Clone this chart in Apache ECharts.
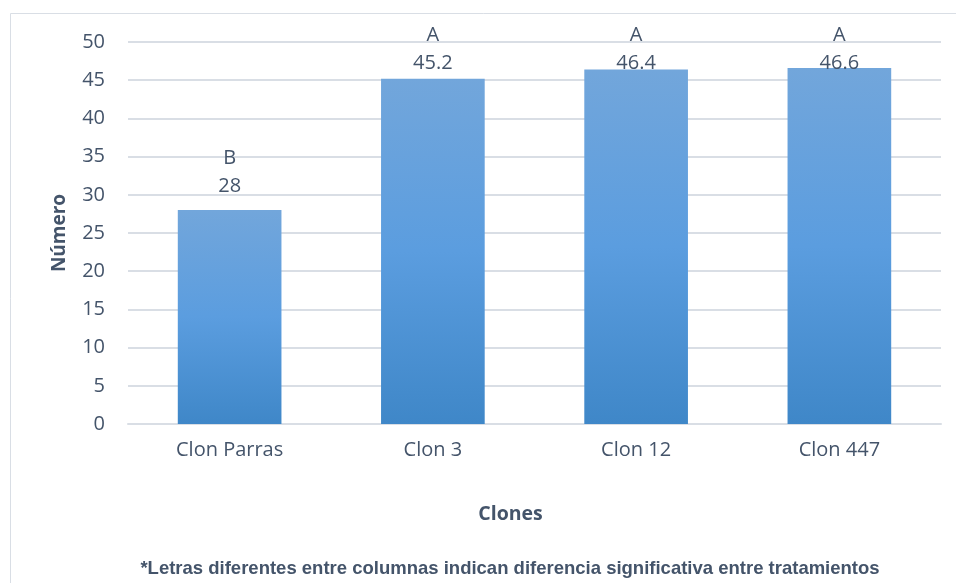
<!DOCTYPE html>
<html>
<head>
<meta charset="utf-8">
<script src="https://cdn.jsdelivr.net/npm/echarts@6/dist/echarts.min.js"></script>
<style>
  html, body { margin: 0; padding: 0; background: #ffffff; }
  #chart { width: 956px; height: 583px; }
</style>
</head>
<body>
<div id="chart"></div>
<script>
// Clones and their mean counts, with significance groups
const categories = ['Clon Parras', 'Clon 3', 'Clon 12', 'Clon 447'];
const values = [28, 45.2, 46.4, 46.6];
const groups = ['B', 'A', 'A', 'A'];
const yMin = 0;
const yMax = 50;
const yStep = 5;

const textColor = '#44546A';
const gridColor = '#D9DEE5';
const fontFamily = '"Open Sans", "Noto Sans", sans-serif';
const labelGap = 10;

const chart = echarts.init(document.getElementById('chart'), null, { renderer: 'canvas' });

const barColor = new echarts.graphic.LinearGradient(0, 0, 0, 1, [
  { offset: 0, color: '#72A6DB' },
  { offset: 0.5, color: '#5B9DDF' },
  { offset: 1, color: '#3F87C8' }
]);

function buildData(offsets) {
  return values.map((v, i) => ({
    value: v,
    label: { offset: [0, offsets ? offsets[i] : 0] }
  }));
}

const option = {
  animation: false,
  backgroundColor: '#ffffff',
  grid: { left: 128, right: 15, top: 42, bottom: 159 },
  graphic: [
    {
      type: 'rect',
      shape: { x: 10.5, y: 13.5, width: 980, height: 620 },
      style: { fill: 'none', stroke: gridColor, lineWidth: 1 },
      silent: true
    },
    {
      type: 'text',
      x: 510, y: 569,
      style: {
        text: '*Letras diferentes entre columnas indican diferencia significativa entre tratamientos',
        font: 'bold 18.5px "Liberation Sans", Arial, sans-serif',
        fill: textColor,
        textAlign: 'center',
        textVerticalAlign: 'middle'
      }
    }
  ],
  xAxis: {
    type: 'category',
    data: categories,
    name: 'Clones',
    nameLocation: 'middle',
    nameGap: 80,
    nameTextStyle: {
      color: textColor, fontFamily: fontFamily, fontSize: 19.5, fontWeight: 'bold',
      padding: [0, 48, 0, 0]
    },
    axisLine: { show: true, lineStyle: { color: gridColor, width: 2 } },
    axisTick: { show: false },
    axisLabel: { color: textColor, fontFamily: fontFamily, fontSize: 20, margin: 16 }
  },
  yAxis: {
    type: 'value',
    min: yMin,
    max: yMax,
    interval: yStep,
    name: 'Número',
    nameLocation: 'middle',
    nameGap: 59,
    nameTextStyle: { color: textColor, fontFamily: fontFamily, fontSize: 19, fontWeight: 'bold' },
    axisLine: { show: false },
    axisTick: { show: false },
    axisLabel: { color: textColor, fontFamily: fontFamily, fontSize: 20, margin: 23 },
    splitLine: { lineStyle: { color: gridColor, width: 2 } }
  },
  series: [{
    type: 'bar',
    barWidth: '51%',
    data: buildData(null),
    itemStyle: { color: barColor },
    label: {
      show: true,
      position: 'top',
      distance: labelGap,
      formatter: (p) => '{g|' + groups[p.dataIndex] + '}\n{v|' + p.value + '}',
      rich: {
        g: { color: textColor, fontFamily: fontFamily, fontSize: 20, lineHeight: 28 },
        v: { color: textColor, fontFamily: fontFamily, fontSize: 20, lineHeight: 28 }
      }
    }
  }]
};

chart.setOption(option);

// Keep the value labels inside the chart area: tall bars get their labels
// pulled down to a common ceiling just below the top of the plot.
const topPx = chart.convertToPixel({ yAxisIndex: 0 }, yMax);
const ceiling = topPx + 35;
const offsets = values.map((v, i) => {
  const barTop = chart.convertToPixel({ seriesIndex: 0 }, [i, v])[1];
  const natural = barTop - labelGap;
  return Math.max(natural, ceiling) - natural;
});
chart.setOption({ series: [{ data: buildData(offsets) }] });
</script>
</body>
</html>
